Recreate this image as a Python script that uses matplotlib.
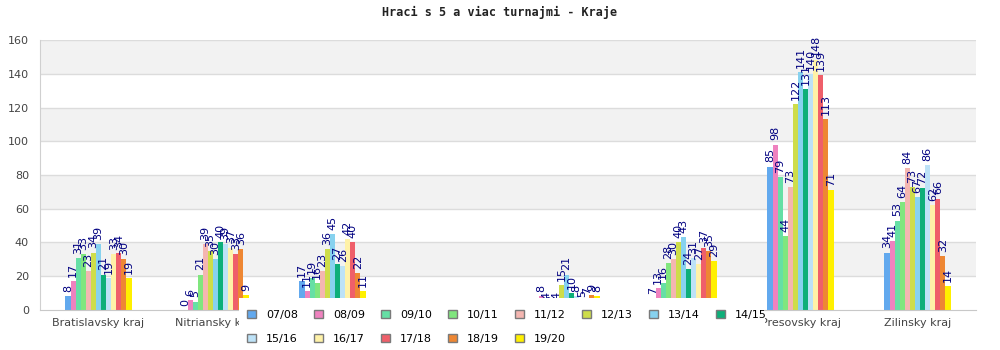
import numpy as np
import matplotlib
matplotlib.use('Agg')
import matplotlib.pyplot as plt
from matplotlib.patches import Patch, Rectangle

seasons = ['07/08', '08/09', '09/10', '10/11', '11/12', '12/13', '13/14',
           '14/15', '15/16', '16/17', '17/18', '18/19', '19/20']
kraje = ['Bratislavsky kraj', 'Nitriansky kraj', 'Trnavsky kraj', 'Trenciansky kraj',
         'Banskobystricky kraj', 'Kosicky kraj', 'Presovsky kraj', 'Zilinsky kraj']

# hraci per kraj, one value per season
bratislavsky = [8, 17, 31, 33, 23, 34, 39, 21, 19, 33, 34, 30, 19]
nitriansky = [0, 6, 5, 21, 39, 35, 30, 40, 39, 37, 33, 36, 9]
trnavsky = [17, 11, 19, 16, 23, 36, 45, 27, 26, 42, 40, 22, 11]
trenciansky = [0, 0, 0, 0, 0, 0, 0, 0, 0, 0, 0, 0, 0]
banskobystricky = [0, 8, 4, 2, 4, 15, 21, 10, 8, 5, 7, 9, 8]
kosicky = [7, 13, 16, 28, 30, 40, 43, 24, 31, 27, 37, 35, 29]
presovsky = [85, 98, 79, 44, 73, 122, 141, 131, 140, 148, 139, 113, 71]
zilinsky = [34, 41, 53, 64, 84, 73, 67, 72, 86, 62, 66, 32, 14]

colors = ['#62a9ee', '#ef82bf', '#66dfa5', '#80e67e', '#f4b6b1', '#cedd4a', '#87d2ef',
          '#0daf79', '#bde2f7', '#fff2a8', '#ef5f6a', '#ee8733', '#fff000']

data = np.array([bratislavsky, nitriansky, trnavsky, trenciansky,
                 banskobystricky, kosicky, presovsky, zilinsky])

fig = plt.figure(figsize=(10, 3.5), dpi=100)
ax = fig.add_axes([0.04, 0.1143, 0.936, 0.7714])

# alternating background bands
for lo in range(20, 160, 40):
    ax.axhspan(lo, lo + 20, color='#f2f2f2', zorder=0, lw=0)
for y in range(20, 161, 20):
    ax.axhline(y, color='#dcdcdc', lw=1, zorder=0.5)

x = np.arange(len(kraje))
w = 0.0435
for i, s in enumerate(seasons):
    vals = data[:, i]
    pos = x + (i - 6) * w
    ax.bar(pos, vals, w, color=colors[i], zorder=2, linewidth=0)
    for px, v in zip(pos, vals):
        ax.annotate(str(v), (px, v), xytext=(0, 3), textcoords='offset points',
                    rotation=90, ha='center', va='bottom', fontsize=8,
                    color='#000080', zorder=3)

ax.set_xlim(-0.5, len(kraje) - 0.5)
ax.set_ylim(0, 160)
ax.set_yticks(range(0, 161, 20))
ax.set_xticks(x)
ax.set_xticklabels(kraje)
ax.tick_params(axis='both', length=0, labelsize=8, colors='#444444')
ax.tick_params(axis='y', pad=8)
ax.tick_params(axis='x', pad=6)
for side in ['top', 'right']:
    ax.spines[side].set_visible(False)
ax.spines['left'].set_color('#d0d0d0')
ax.spines['bottom'].set_color('#c8c8c8')

fig.text(0.5, 0.965, 'Hraci s 5 a viac turnajmi - Kraje', ha='center', va='center',
         family='DejaVu Sans Mono', fontsize=8.5, fontweight='bold', color='#222222')

# white box behind the legend, sits over the bottom of the plot
fig.add_artist(Rectangle((0.239, 0.0), 0.526, 0.1486, transform=fig.transFigure,
                         facecolor='white', edgecolor='none', zorder=1))

# legend fills column by column, so reorder to read row by row
ncol = 8
nrow2 = len(seasons) - ncol
order = []
for j in range(ncol):
    order.append(j)
    if j < nrow2:
        order.append(ncol + j)
handles = [Patch(facecolor=colors[k], edgecolor='#7a7a7a', linewidth=1) for k in order]
labels = [seasons[k] for k in order]
leg = fig.legend(handles, labels, loc='upper left', bbox_to_anchor=(0.247, 0.115),
                 ncol=ncol, fontsize=8, frameon=False, handlelength=0.8,
                 handleheight=0.8, handletextpad=0.9, columnspacing=1.45,
                 labelspacing=1.27, borderpad=0, borderaxespad=0)
leg.set_zorder(5)

fig.savefig('out.png', dpi=100)
